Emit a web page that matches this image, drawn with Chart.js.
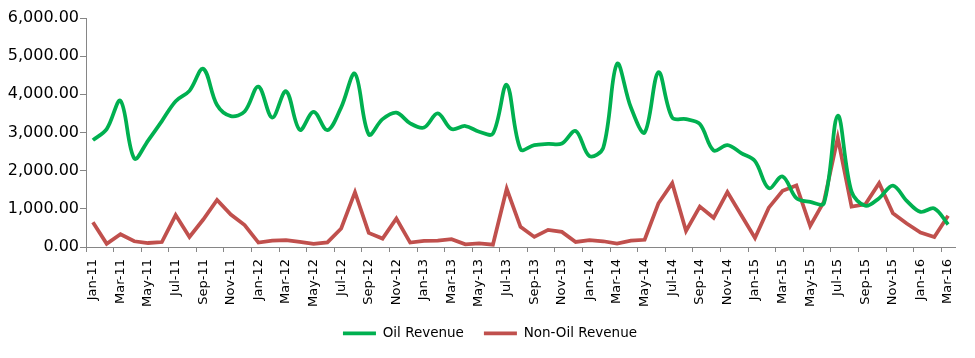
<!DOCTYPE html>
<html>
<head>
<meta charset="utf-8">
<script src="https://cdn.jsdelivr.net/npm/chart.js@4.4.1/dist/chart.umd.min.js"></script>
<style>
  html, body { margin: 0; padding: 0; background: #ffffff; }
  #wrap { width: 975px; height: 358px; }
</style>
</head>
<body>
<div id="wrap"><canvas id="c" width="975" height="358"></canvas></div>
<script>
const months = [
  "Jan-11","Feb-11","Mar-11","Apr-11","May-11","Jun-11","Jul-11","Aug-11","Sep-11","Oct-11","Nov-11","Dec-11",
  "Jan-12","Feb-12","Mar-12","Apr-12","May-12","Jun-12","Jul-12","Aug-12","Sep-12","Oct-12","Nov-12","Dec-12",
  "Jan-13","Feb-13","Mar-13","Apr-13","May-13","Jun-13","Jul-13","Aug-13","Sep-13","Oct-13","Nov-13","Dec-13",
  "Jan-14","Feb-14","Mar-14","Apr-14","May-14","Jun-14","Jul-14","Aug-14","Sep-14","Oct-14","Nov-14","Dec-14",
  "Jan-15","Feb-15","Mar-15","Apr-15","May-15","Jun-15","Jul-15","Aug-15","Sep-15","Oct-15","Nov-15","Dec-15",
  "Jan-16","Feb-16","Mar-16"
];

const oilRevenue = [
  2800, 3090, 3830, 2320, 2790, 3300, 3820, 4090, 4670, 3720, 3430, 3550,
  4200, 3390, 4080, 3070, 3540, 3060, 3660, 4540, 2950, 3350, 3520, 3240,
  3130, 3500, 3090, 3170, 3020, 2970, 4250, 2560, 2670, 2700, 2710, 3040,
  2380, 2600, 4800, 3660, 3000, 4580, 3390, 3350, 3220, 2530, 2670, 2460,
  2250, 1540, 1850, 1280, 1180, 1150, 3440, 1450, 1080, 1280, 1610, 1210,
  920, 1010, 590
];

const nonOilRevenue = [
  650, 85, 335, 150, 105, 130, 837, 264, 720, 1234, 850, 573,
  115, 167, 177, 132, 80, 120, 484, 1436, 370, 220, 748, 115,
  158, 167, 203, 71, 97, 62, 1525, 529, 264, 449, 396, 132,
  177, 150, 88, 167, 190, 1145, 1673, 420, 1057, 766, 1440, 840,
  238, 1031, 1471, 1612, 550, 1189, 2863, 1057, 1118, 1673, 881, 616,
  379, 264, 819
];

const yTickValues = [0, 1000, 2000, 3000, 4000, 5000, 6000];

const axisGrey = '#868686';

new Chart(document.getElementById('c'), {
  type: 'line',
  data: {
    labels: months,
    datasets: [
      {
        label: 'Oil Revenue',
        data: oilRevenue,
        borderColor: '#00B050',
        backgroundColor: '#00B050',
        borderWidth: 3.75,
        pointRadius: 0,
        tension: 0.35,
        fill: false
      },
      {
        label: 'Non-Oil Revenue',
        data: nonOilRevenue,
        borderColor: '#C0504D',
        backgroundColor: '#C0504D',
        borderWidth: 3.75,
        pointRadius: 0,
        tension: 0,
        fill: false
      }
    ]
  },
  options: {
    responsive: false,
    animation: false,
    devicePixelRatio: 1,
    layout: { padding: { top: 18, right: 0, bottom: 8, left: 5 } },
    plugins: {
      tooltip: { enabled: false },
      legend: {
        position: 'bottom',
        labels: {
          usePointStyle: true,
          pointStyle: 'line',
          pointStyleWidth: 33,
          padding: 20,
          color: '#000000',
          font: { family: 'DejaVu Sans', size: 13.5 }
        }
      }
    },
    scales: {
      x: {
        type: 'category',
        offset: true,
        afterFit: (s) => { s.height = 59.5; },
        grid: {
          offset: true,
          drawOnChartArea: false,
          drawTicks: true,
          tickLength: 5,
          color: (ctx) => (ctx.index % 2 === 0 ? axisGrey : 'rgba(0,0,0,0)')
        },
        border: { display: true, color: axisGrey, width: 1 },
        ticks: {
          autoSkip: false,
          maxRotation: 90,
          minRotation: 90,
          padding: 7,
          color: '#000000',
          font: { family: 'DejaVu Sans', size: 13 },
          callback: function (value, index) {
            return index % 2 === 0 ? months[index] : '';
          }
        }
      },
      y: {
        min: yTickValues[0],
        max: yTickValues[yTickValues.length - 1],
        afterFit: (s) => { s.width = 81; },
        afterBuildTicks: (s) => { s.ticks = yTickValues.map(v => ({ value: v })); },
        grid: {
          drawOnChartArea: false,
          drawTicks: true,
          tickLength: 6,
          color: axisGrey
        },
        border: { display: true, color: axisGrey, width: 1 },
        ticks: {
          padding: 1,
          color: '#000000',
          font: { family: 'DejaVu Sans', size: 16 },
          callback: (v) => Number(v).toLocaleString('en-US', { minimumFractionDigits: 2, maximumFractionDigits: 2 })
        }
      },
      ySpacer: {
        position: 'right',
        display: true,
        min: 0,
        max: 6000,
        afterFit: (s) => { s.width = 20; },
        grid: { display: false, drawTicks: false },
        border: { display: false },
        ticks: { display: false }
      }
    }
  }
});
</script>
</body>
</html>
